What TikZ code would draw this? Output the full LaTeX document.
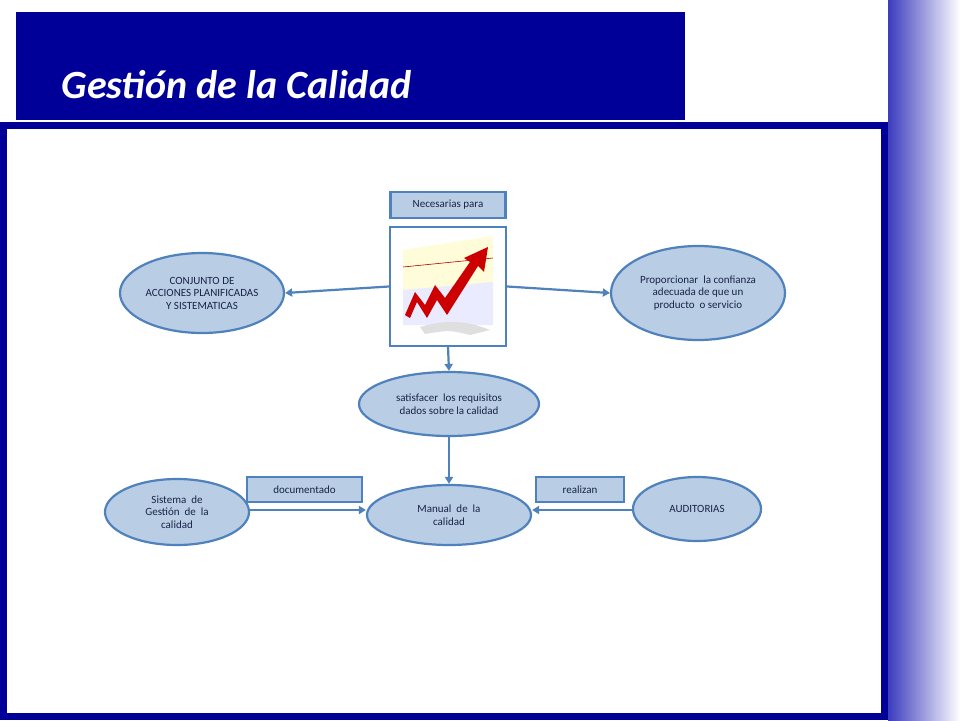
\documentclass[tikz,border=0pt]{standalone}
\usepackage{fontspec}
\setmainfont{Carlito}
\usetikzlibrary{shapes.geometric,arrows.meta}
\definecolor{dblue}{RGB}{0,0,153}
\definecolor{efill}{RGB}{185,205,229}
\definecolor{edraw}{RGB}{79,129,189}
\definecolor{tcol}{RGB}{25,35,70}
\tikzset{
 ell/.style={ellipse,draw=edraw,fill=efill,line width=2.2pt,text=tcol,font=\fontsize{11}{12.5}\selectfont,align=center,inner sep=0pt},
 lbl/.style={rectangle,draw=edraw,fill=efill,line width=2.2pt,text=tcol,font=\fontsize{11}{12}\selectfont,inner sep=0pt},
 conn/.style={draw=edraw,line width=2.2pt,-{Triangle[length=7pt,width=8pt]}}
}
\begin{document}
\begin{tikzpicture}[x=1pt,y=-1pt]
\useasboundingbox (0,0) rectangle (960,720);
\fill[white] (0,0) rectangle (960,720);
\shade[left color={rgb,255:red,60;green,60;blue,190},right color=white] (888,0) rectangle (960,720);
\fill[dblue] (16,12) rectangle (685,120);
\node[anchor=base west,text=white,font=\fontsize{40}{40}\selectfont\bfseries\itshape] (title) at (58,98) {Gestión de la Calidad};
\draw[dblue,line width=7pt] (3.5,125.5) rectangle (884.5,716.5);
% nodes
\node[lbl,minimum width=115,minimum height=26] (nec) at (448,205) {Necesarias para};
\node[rectangle,draw=edraw,line width=2.2pt,fill=white,minimum width=116,minimum height=119] (img) at (448,286.5) {};
\begin{scope}
\fill[yellow!15] (403,250) -- (493,236) -- (493,320) -- (403,325) -- cycle;
\fill[blue!8] (403,290) -- (493,282) -- (493,325) -- (403,325) -- cycle;
\fill[gray!25] (420,327) .. controls (450,318) and (470,322) .. (490,330) -- (470,335) .. controls (450,330) .. (425,334) -- cycle;
\draw[red!70!black,line width=0.6pt] (403,267) -- (493,258);
\fill[red!80!black] (405,315) -- (415,292) -- (425,305) -- (435,285) -- (445,298) -- (470,262) -- (464,258) -- (488,247) -- (484,272) -- (478,266) -- (447,315) -- (437,300) -- (427,318) -- (417,302) -- (410,318) -- cycle;
\end{scope}
\node[ell,minimum width=164,minimum height=80] (conj) at (202,293) {CONJUNTO DE\\ACCIONES PLANIFICADAS\\Y SISTEMATICAS};
\node[ell,minimum width=174,minimum height=94] (prop) at (698,293) {Proporcionar\ \ la confianza\\adecuada de que un\\producto\ \ o servicio};
\node[ell,minimum width=180,minimum height=64] (sat) at (449,404) {satisfacer\ \ los requisitos\\dados sobre la calidad};
\node[ell,minimum width=164,minimum height=60] (man) at (449,515) {Manual\ \ de\ \ la\\calidad};
\node[ell,minimum width=144,minimum height=66] (sis) at (177,512) {Sistema\ \ de\\Gestión\ \ de\ \ la\\calidad};
\node[ell,minimum width=128,minimum height=64] (aud) at (697,509) {AUDITORIAS};
\node[lbl,minimum width=115,minimum height=25] (doc) at (304.5,489.5) {documentado};
\node[lbl,minimum width=88,minimum height=25] (rea) at (580,489.5) {realizan};
% connectors
\draw[conn] (img.west) -- (conj.east);
\draw[conn] (img.east) -- (prop.west);
\draw[conn] (img.south) -- (sat.north);
\draw[conn] (sat.south) -- (man.north);
\draw[conn] (sis.east |- 0,510) -- (man.west |- 0,510);
\draw[conn] (aud.west |- 0,510) -- (man.east |- 0,510);
\end{tikzpicture}
\end{document}
